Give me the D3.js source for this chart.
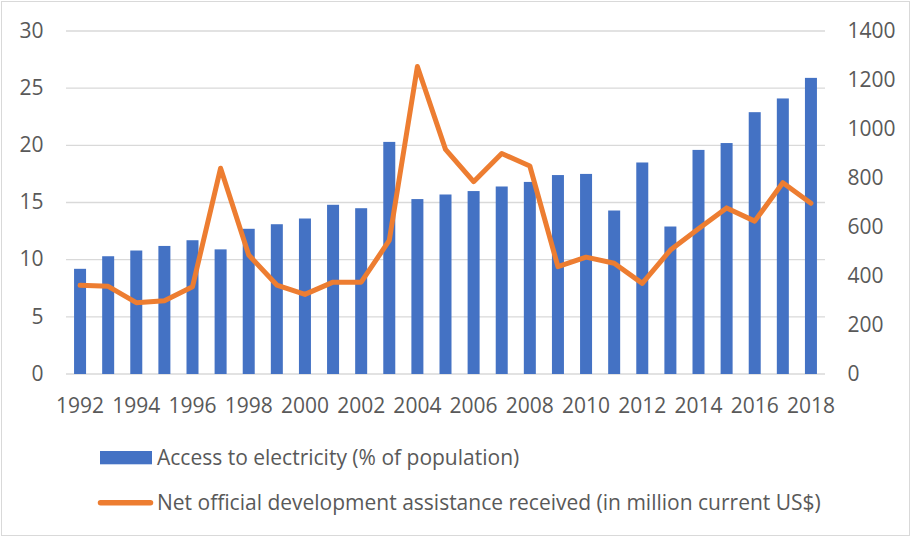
<!DOCTYPE html>
<html>
<head>
<meta charset="utf-8">
<script src="https://cdn.jsdelivr.net/npm/d3@7"></script>
<style>
  html, body { margin: 0; padding: 0; background: #fff; }
  svg { display: block; }
  text { font-family: "Open Sans", Lato, sans-serif; fill: #595959; }
</style>
</head>
<body>
<svg id="chart" width="912" height="538"></svg>
<script>
// Years on the category axis
const years = d3.range(1992, 2019).map(String);

// Access to electricity (% of population), left axis
const electricity = [9.2, 10.3, 10.8, 11.2, 11.7, 10.9, 12.7, 13.1, 13.6, 14.8,
  14.5, 20.3, 15.3, 15.7, 16.0, 16.4, 16.8, 17.4, 17.5, 14.3,
  18.5, 12.9, 19.6, 20.2, 22.9, 24.1, 25.9];

// Net official development assistance received (million current US$), right axis
const oda = [362, 358, 291, 299, 356, 840, 486, 363, 325, 375,
  375, 545, 1255, 917, 785, 900, 849, 438, 477, 452,
  370, 506, 593, 678, 624, 781, 697];

const leftTicks = [0, 5, 10, 15, 20, 25, 30];
const rightTicks = [0, 200, 400, 600, 800, 1000, 1200, 1400];

const seriesNames = [
  "Access to electricity (% of population)",
  "Net official development assistance received (in million current US$)"
];

const svg = d3.select("#chart");
const W = 912, H = 538;
const plot = { left: 66, right: 825, top: 31, bottom: 374 };
const fontSize = "21px";

// Outer chart border
svg.append("rect")
  .attr("x", 1.5).attr("y", 1.5)
  .attr("width", W - 4).attr("height", H - 4)
  .attr("fill", "#fff").attr("stroke", "#d9d9d9").attr("stroke-width", 1);

const xc = d3.scaleBand().domain(years).range([plot.left, plot.right]);
const yL = d3.scaleLinear().domain([0, 30]).range([plot.bottom, plot.top]);
const yR = d3.scaleLinear().domain([0, 1400]).range([plot.bottom, plot.top]);

// Gridlines
svg.append("g").selectAll("line").data(leftTicks).join("line")
  .attr("x1", plot.left).attr("x2", plot.right)
  .attr("y1", d => yL(d)).attr("y2", d => yL(d))
  .attr("stroke", "#d9d9d9").attr("stroke-width", 1.3);

// Left axis
const axL = svg.append("g").attr("transform", "translate(43.5,0)")
  .call(d3.axisLeft(yL).tickValues(leftTicks).tickSize(0).tickPadding(0));
axL.select(".domain").remove();
axL.selectAll("text").style("font-size", fontSize).attr("fill", "#595959").attr("dy", "0.3em");

// Right axis
const axR = svg.append("g").attr("transform", "translate(847.5,0)")
  .call(d3.axisRight(yR).tickValues(rightTicks).tickFormat(d3.format("d")).tickSize(0).tickPadding(0));
axR.select(".domain").remove();
axR.selectAll("text").style("font-size", fontSize).attr("fill", "#595959").attr("dy", "0.3em");

// Bars
svg.append("g").selectAll("rect").data(electricity).join("rect")
  .attr("x", (d, i) => xc(years[i]) + xc.bandwidth() / 2 - 6)
  .attr("width", 12)
  .attr("y", d => yL(d))
  .attr("height", d => yL(0) - yL(d))
  .attr("fill", "#4472c4");

// Line
const line = d3.line()
  .x((d, i) => xc(years[i]) + xc.bandwidth() / 2)
  .y(d => yR(d));
svg.append("path").datum(oda)
  .attr("d", line)
  .attr("fill", "none").attr("stroke", "#ed7d31")
  .attr("stroke-width", 5).attr("stroke-linejoin", "round").attr("stroke-linecap", "round");

// Category axis, every second year labelled
const axB = svg.append("g").attr("transform", "translate(0,412.7)")
  .call(d3.axisBottom(xc).tickValues(years.filter((d, i) => i % 2 === 0)).tickSize(0).tickPadding(0));
axB.select(".domain").remove();
axB.selectAll("text").style("font-size", fontSize).attr("fill", "#595959").attr("y", 0).attr("dy", 0);

// Legend
const lg = svg.append("g");
lg.append("rect").attr("x", 100).attr("y", 451).attr("width", 52).attr("height", 13.3).attr("fill", "#4472c4");
lg.append("text").attr("x", 157).attr("y", 465).style("font-size", fontSize).text(seriesNames[0]);
lg.append("line").attr("x1", 100.5).attr("x2", 150.5).attr("y1", 502.7).attr("y2", 502.7)
  .attr("stroke", "#ed7d31").attr("stroke-width", 5.5).attr("stroke-linecap", "round");
lg.append("text").attr("x", 157).attr("y", 510).style("font-size", fontSize).text(seriesNames[1]);
</script>
</body>
</html>
